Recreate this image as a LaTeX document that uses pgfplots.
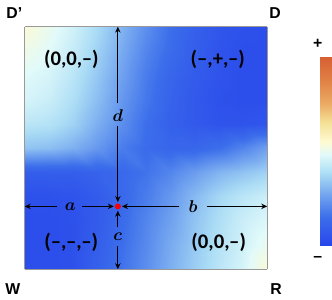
\documentclass[border=0pt]{standalone}
\usepackage{fontspec}
\setmainfont{Liberation Sans}
\newfontfamily\carlito{Carlito}
\usepackage{pgfplots}
\pgfplotsset{compat=1.18}
\usetikzlibrary{arrows.meta}
\begin{document}
\begin{tikzpicture}[x=1bp,y=1bp]
\path (0,0) rectangle (332,303);
\begin{axis}[at={(25bp,31bp)}, anchor=south west, scale only axis,
  width=245bp, height=245bp, view={0}{90},
  xmin=0, xmax=1, ymin=0, ymax=1,
  xtick=\empty, ytick=\empty, ztick=\empty,
  axis line style={draw=black!40, line width=1.2pt},
  colormap={heat}{rgb255(0cm)=(40,70,235) rgb255(15cm)=(60,110,235) rgb255(28cm)=(120,170,240) rgb255(38cm)=(170,220,245) rgb255(48cm)=(225,250,250) rgb255(55cm)=(255,250,210) rgb255(65cm)=(245,225,150) rgb255(75cm)=(235,170,100) rgb255(87cm)=(225,130,70) rgb255(100cm)=(215,95,50)},
  point meta min=0, point meta max=1,
  colorbar,
  colorbar style={width=12bp, height=191bp, at={(parent axis.south east)}, anchor=south west, xshift=45bp, yshift=24bp, xtick=\empty, ytick=\empty, axis line style={draw=none}},
  clip=false]
\addplot3[surf, shader=interp, mesh/rows=11] table {
x y z
0.0 0.0 0.03
0.1 0.0 0.03
0.2 0.0 0.04
0.3 0.0 0.10
0.4 0.0 0.16
0.5 0.0 0.22
0.6 0.0 0.29
0.7 0.0 0.35
0.8 0.0 0.41
0.9 0.0 0.46
1.0 0.0 0.54
0.0 0.1 0.03
0.1 0.1 0.03
0.2 0.1 0.04
0.3 0.1 0.09
0.4 0.1 0.15
0.5 0.1 0.21
0.6 0.1 0.28
0.7 0.1 0.34
0.8 0.1 0.40
0.9 0.1 0.45
1.0 0.1 0.50
0.0 0.2 0.03
0.1 0.2 0.03
0.2 0.2 0.04
0.3 0.2 0.08
0.4 0.2 0.14
0.5 0.2 0.20
0.6 0.2 0.26
0.7 0.2 0.33
0.8 0.2 0.39
0.9 0.2 0.44
1.0 0.2 0.47
0.0 0.3 0.04
0.1 0.3 0.04
0.2 0.3 0.05
0.3 0.3 0.08
0.4 0.3 0.13
0.5 0.3 0.18
0.6 0.3 0.24
0.7 0.3 0.31
0.8 0.3 0.37
0.9 0.3 0.41
1.0 0.3 0.44
0.0 0.4 0.09
0.1 0.4 0.09
0.2 0.4 0.09
0.3 0.4 0.11
0.4 0.4 0.13
0.5 0.4 0.16
0.6 0.4 0.20
0.7 0.4 0.25
0.8 0.4 0.30
0.9 0.4 0.33
1.0 0.4 0.36
0.0 0.5 0.33
0.1 0.5 0.32
0.2 0.5 0.29
0.3 0.5 0.24
0.4 0.5 0.18
0.5 0.5 0.14
0.6 0.5 0.12
0.7 0.5 0.12
0.8 0.5 0.15
0.9 0.5 0.20
1.0 0.5 0.26
0.0 0.6 0.41
0.1 0.6 0.40
0.2 0.6 0.36
0.3 0.6 0.29
0.4 0.6 0.22
0.5 0.6 0.15
0.6 0.6 0.10
0.7 0.6 0.07
0.8 0.6 0.05
0.9 0.6 0.05
1.0 0.6 0.06
0.0 0.7 0.46
0.1 0.7 0.44
0.2 0.7 0.39
0.3 0.7 0.32
0.4 0.7 0.24
0.5 0.7 0.17
0.6 0.7 0.11
0.7 0.7 0.07
0.8 0.7 0.04
0.9 0.7 0.03
1.0 0.7 0.03
0.0 0.8 0.48
0.1 0.8 0.46
0.2 0.8 0.41
0.3 0.8 0.34
0.4 0.8 0.26
0.5 0.8 0.18
0.6 0.8 0.12
0.7 0.8 0.08
0.8 0.8 0.05
0.9 0.8 0.03
1.0 0.8 0.03
0.0 0.9 0.51
0.1 0.9 0.48
0.2 0.9 0.43
0.3 0.9 0.36
0.4 0.9 0.28
0.5 0.9 0.20
0.6 0.9 0.14
0.7 0.9 0.09
0.8 0.9 0.05
0.9 0.9 0.03
1.0 0.9 0.03
0.0 1.0 0.54
0.1 1.0 0.50
0.2 1.0 0.45
0.3 1.0 0.38
0.4 1.0 0.30
0.5 1.0 0.22
0.6 1.0 0.15
0.7 1.0 0.10
0.8 1.0 0.06
0.9 1.0 0.04
1.0 1.0 0.03
};
% arrows
\begin{scope}[line width=1.1bp, arrows={-{Stealth[length=6bp,width=5.5bp]}}]
\draw (axis cs:0.135,0.259,1) -- (axis cs:0,0.259,1);
\draw (axis cs:0.237,0.259,1) -- (axis cs:0.367,0.259,1);
\draw (axis cs:0.637,0.259,1) -- (axis cs:0.401,0.259,1);
\draw (axis cs:0.750,0.259,1) -- (axis cs:1,0.259,1);
\draw (axis cs:0.384,0.685,1) -- (axis cs:0.384,1,1);
\draw (axis cs:0.384,0.590,1) -- (axis cs:0.384,0.277,1);
\draw (axis cs:0.384,0.172,1) -- (axis cs:0.384,0.241,1);
\draw (axis cs:0.384,0.096,1) -- (axis cs:0.384,0,1);
\end{scope}
\fill[red] (axis cs:0.384,0.259,1) circle[radius=3bp];
\node[font=\fontsize{16}{16}\selectfont\boldmath] at (axis cs:0.188,0.259,1) {$a$};
\node[font=\fontsize{16}{16}\selectfont\boldmath] at (axis cs:0.694,0.259,1) {$b$};
\node[font=\fontsize{16}{16}\selectfont\boldmath] at (axis cs:0.384,0.133,1) {$c$};
\node[font=\fontsize{16}{16}\selectfont\boldmath] at (axis cs:0.384,0.635,1) {$d$};
\node[font=\carlito\bfseries\fontsize{21}{21}\selectfont] at (axis cs:0.192,0.867,1) {(0,0,–)};
\node[font=\carlito\bfseries\fontsize{21}{21}\selectfont] at (axis cs:0.796,0.867,1) {(–,+,–)};
\node[font=\carlito\bfseries\fontsize{21}{21}\selectfont] at (axis cs:0.192,0.112,1) {(–,–,–)};
\node[font=\carlito\bfseries\fontsize{21}{21}\selectfont] at (axis cs:0.800,0.112,1) {(0,0,–)};
\end{axis}
\node[font=\bfseries\fontsize{16}{16}\selectfont, anchor=west] at (3,290) {D’};
\node[font=\bfseries\fontsize{16}{16}\selectfont] at (278,290) {D};
\node[font=\bfseries\fontsize{16}{16}\selectfont] at (13,11) {W};
\node[font=\bfseries\fontsize{16}{16}\selectfont] at (279,11) {R};
\node[font=\bfseries\fontsize{16}{16}\selectfont] at (321,259) {+};
\node[font=\bfseries\fontsize{16}{16}\selectfont] at (321,41) {–};
\end{tikzpicture}
\end{document}
